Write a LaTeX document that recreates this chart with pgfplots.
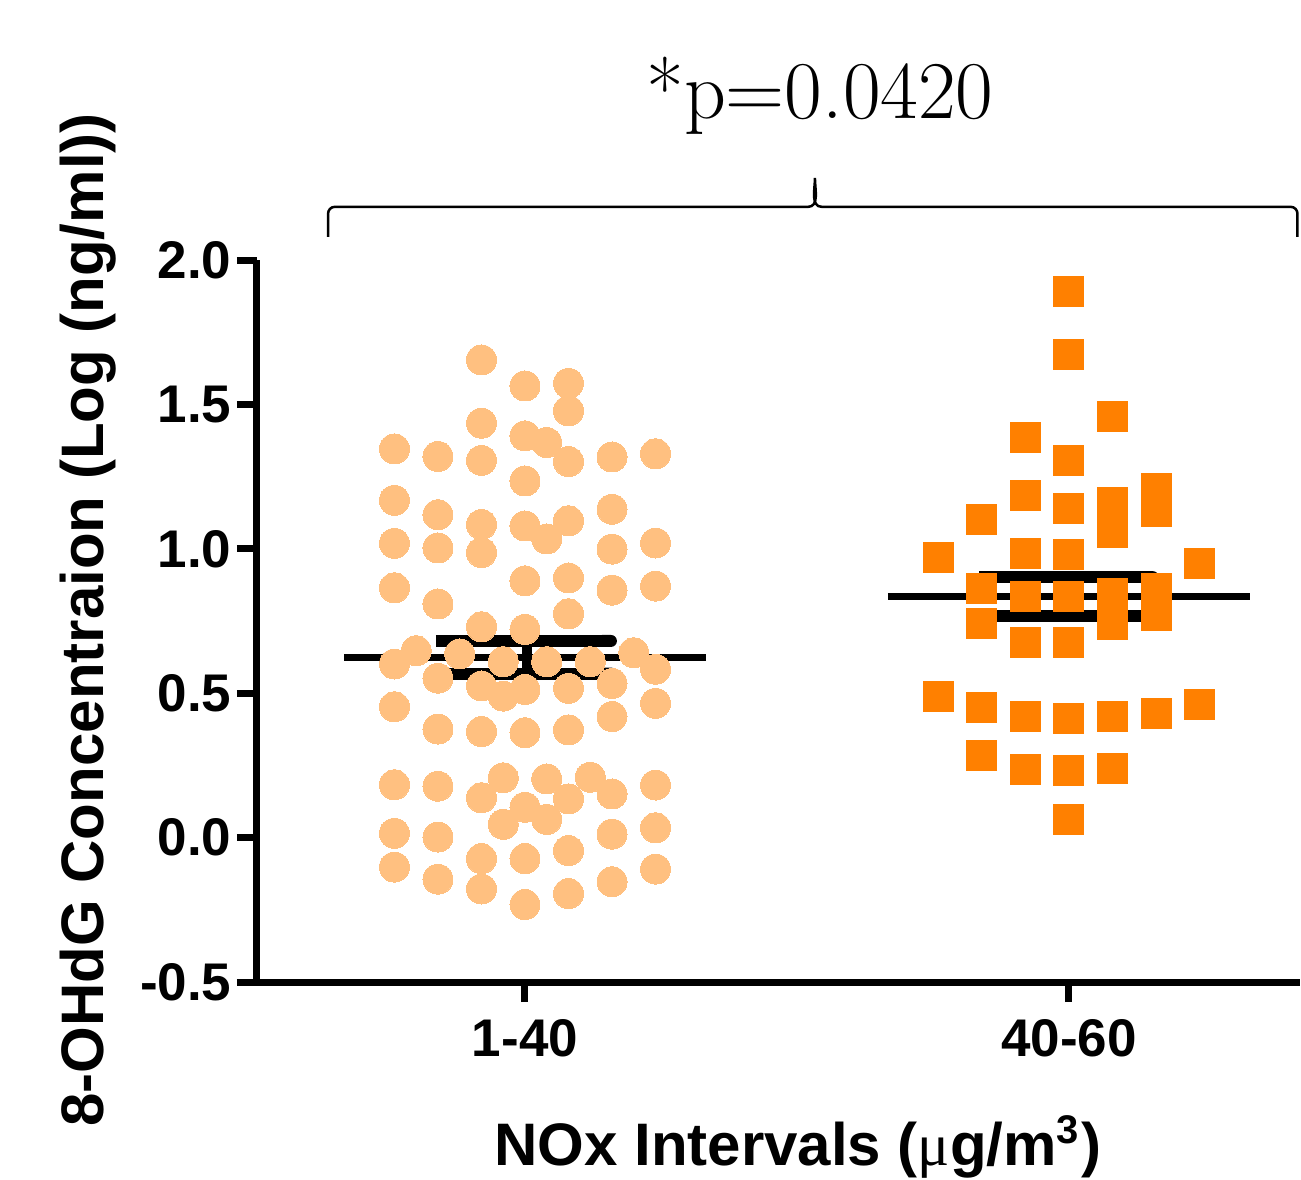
\documentclass[border=0pt]{standalone}
\usepackage{fontspec}
\usepackage{pgfplots}
\pgfplotsset{compat=1.18}
\usetikzlibrary{arrows.meta}
\newfontfamily\lsans{Liberation Sans}
\newfontfamily\lserif{Liberation Serif}
\definecolor{lowgrp}{RGB}{255,192,128}
\definecolor{highgrp}{RGB}{255,128,0}
\newcommand\tickfont{\lsans\bfseries\fontsize{10.6}{12}\selectfont}
\newcommand\labfont{\lsans\bfseries\fontsize{12}{14}\selectfont}

\begin{document}
\begin{tikzpicture}
\begin{axis}[
    scale only axis,
    width=208.6pt, height=144.4pt,
    xmin=0.5074, xmax=2.4246,
    ymin=-0.5, ymax=2.0,
    axis x line*=bottom, axis y line*=left,
    axis line style={line width=1.4pt},
    xtick={1,2}, xticklabels={1-40,40-60},
    ytick={-0.5,0,0.5,1,1.5,2},
    yticklabels={-0.5,0.0,0.5,1.0,1.5,2.0},
    tick align=outside,
    major tick length=4pt,
    tick style={line width=1.4pt, black},
    ticklabel style={font=\tickfont},
    yticklabel style={xshift=2.4pt},
    clip=false,
    semcap/.style={black, line width=2.4pt, -{Round Cap[]}},
]
% 1-40 group, columns 0.04 apart
\addplot[only marks, mark=*, mark size=3pt, color=lowgrp, mark options={draw=lowgrp, fill=lowgrp, line width=0pt}] coordinates {
    (0.76,1.346) (0.76,1.168) (0.76,1.019) (0.76,0.865) (0.76,0.601) (0.76,0.453) (0.76,0.183) (0.76,0.015) (0.76,-0.102)
    (0.80,0.647)
    (0.84,1.320) (0.84,1.118) (0.84,1.003) (0.84,0.809) (0.84,0.552) (0.84,0.376) (0.84,0.178) (0.84,0.002) (0.84,-0.144)
    (0.88,0.636)
    (0.92,1.654) (0.92,1.435) (0.92,1.306) (0.92,1.084) (0.92,0.987) (0.92,0.730) (0.92,0.525) (0.92,0.367) (0.92,0.138) (0.92,-0.073) (0.92,-0.178)
    (0.96,0.609) (0.96,0.490) (0.96,0.207) (0.96,0.046)
    (1.00,1.564) (1.00,1.391) (1.00,1.235) (1.00,1.079) (1.00,0.889) (1.00,0.721) (1.00,0.513) (1.00,0.363) (1.00,0.105) (1.00,-0.073) (1.00,-0.232)
    (1.04,1.368) (1.04,1.034) (1.04,0.609) (1.04,0.203) (1.04,0.063)
    (1.08,1.573) (1.08,1.478) (1.08,1.302) (1.08,1.097) (1.08,0.899) (1.08,0.775) (1.08,0.517) (1.08,0.373) (1.08,0.134) (1.08,-0.045) (1.08,-0.194)
    (1.12,0.609) (1.12,0.209)
    (1.16,1.318) (1.16,1.137) (1.16,0.999) (1.16,0.857) (1.16,0.534) (1.16,0.419) (1.16,0.151) (1.16,0.012) (1.16,-0.153)
    (1.20,0.640)
    (1.24,1.329) (1.24,1.020) (1.24,0.871) (1.24,0.583) (1.24,0.465) (1.24,0.182) (1.24,0.034) (1.24,-0.109)
};
% 40-60 group, columns 0.08 apart
\addplot[only marks, mark=square*, mark size=3pt, color=highgrp, mark options={draw=highgrp, fill=highgrp, line width=0pt}] coordinates {
    (1.76,0.970) (1.76,0.487)
    (1.84,1.101) (1.84,0.864) (1.84,0.743) (1.84,0.449) (1.84,0.284)
    (1.92,1.385) (1.92,1.185) (1.92,0.983) (1.92,0.835) (1.92,0.677) (1.92,0.421) (1.92,0.237)
    (2.00,1.892) (2.00,1.673) (2.00,1.307) (2.00,1.141) (2.00,0.981) (2.00,0.835) (2.00,0.674) (2.00,0.414) (2.00,0.234) (2.00,0.063)
    (2.08,1.457) (2.08,1.159) (2.08,1.058) (2.08,0.845) (2.08,0.737) (2.08,0.421) (2.08,0.240)
    (2.16,1.208) (2.16,1.128) (2.16,0.863) (2.16,0.768) (2.16,0.430)
    (2.24,0.950) (2.24,0.460)
};
% mean and SEM
\addplot[black, line width=1.4pt] coordinates {(0.668,0.624) (1.332,0.624)};
\addplot[semcap] coordinates {(0.836,0.681) (1.169,0.681)};
\addplot[semcap] coordinates {(0.836,0.568) (1.169,0.568)};
\addplot[black, line width=2pt] coordinates {(1.003,0.568) (1.003,0.681)};
\addplot[black, line width=1.4pt] coordinates {(1.667,0.834) (2.333,0.834)};
\addplot[semcap] coordinates {(1.835,0.902) (2.165,0.902)};
\addplot[semcap] coordinates {(1.835,0.767) (2.165,0.767)};
\addplot[black, line width=2pt] coordinates {(2.0,0.767) (2.0,0.902)};
% brace
\draw[line width=0.5pt] (axis cs:0.638,2.08) -- (axis cs:0.638,2.16)
    to[out=90,in=180] (axis cs:0.650,2.184) -- (axis cs:1.520,2.184)
    to[out=0,in=-90] (axis cs:1.533,2.284)
    to[out=-90,in=180] (axis cs:1.546,2.184) -- (axis cs:2.408,2.184)
    to[out=0,in=90] (axis cs:2.42,2.16) -- (axis cs:2.42,2.08);
\end{axis}
\node[anchor=base, inner sep=0] at (112.6pt,172.6pt) {\fontsize{16.4}{19}\selectfont *p=0.0420};
\node[rotate=90, anchor=base, inner sep=0] at (-30.6pt,72.4pt) {\labfont 8-OHdG Concentraion (Log (ng/ml))};
\node[anchor=base, inner sep=0] at (108.2pt,-36.6pt) {\labfont NOx Intervals ({\lserif\mdseries μ}g/m\textsuperscript{3})};
\pgfresetboundingbox
\path[use as bounding box] (-51.4pt,-39.6pt) rectangle (208.8pt,196.4pt);
\end{tikzpicture}
\end{document}
